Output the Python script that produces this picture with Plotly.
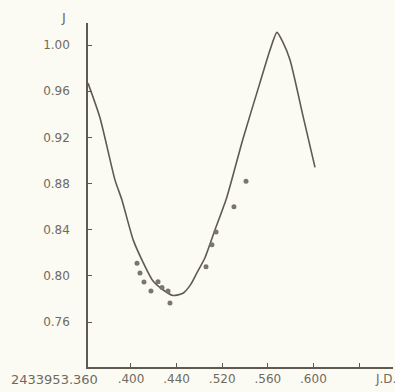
import plotly.graph_objects as go

# Light curve (smooth drawn curve), x = fraction of J.D. 2433953 + x
curve_x = [0.3623, 0.3728, 0.386, 0.392, 0.402, 0.4105, 0.419, 0.428, 0.437, 0.4456,
           0.452, 0.458, 0.465, 0.4737, 0.484, 0.498, 0.513, 0.522, 0.528, 0.533,
           0.5395, 0.551, 0.5614]
curve_y = [0.967, 0.937, 0.883, 0.866, 0.831, 0.812, 0.796, 0.788, 0.783, 0.785,
           0.792, 0.803, 0.816, 0.840, 0.868, 0.918, 0.967, 0.996, 1.011, 1.003,
           0.987, 0.938, 0.894]

# Observed points
obs_x = [0.4053, 0.4079, 0.4114, 0.4175, 0.4237, 0.4272, 0.4325, 0.4342,
         0.4658, 0.4710, 0.4746, 0.4903, 0.5009]
obs_y = [0.811, 0.8026, 0.7948, 0.787, 0.795, 0.790, 0.787, 0.7766,
         0.808, 0.827, 0.838, 0.860, 0.882]

x_tickvals = [0.400, 0.440, 0.480, 0.520, 0.560, 0.600]
x_ticktext = [".400", ".440", ".520", ".560", ".600", ""]
y_tickvals = [1.00, 0.96, 0.92, 0.88, 0.84, 0.80, 0.76]
y_ticktext = ["1.00", "0.96", "0.92", "0.88", "0.84", "0.80", "0.76"]

bg = "#fcfbf3"
ink = "#5e5a52"
txt = "#6e6a60"
font = dict(family="DejaVu Sans", size=12, color=txt)

fig = go.Figure()
fig.add_trace(go.Scatter(x=curve_x, y=curve_y, mode="lines",
                         line=dict(color=ink, width=1.6, shape="spline", smoothing=0.6),
                         hoverinfo="skip", showlegend=False))
fig.add_trace(go.Scatter(x=obs_x, y=obs_y, mode="markers",
                         marker=dict(color="#7a766c", size=5, line=dict(width=0)),
                         showlegend=False))

fig.update_layout(
    width=395, height=392,
    margin=dict(l=88, r=2, t=23, b=25),
    paper_bgcolor=bg, plot_bgcolor=bg,
    font=font,
    xaxis=dict(range=[0.3623, 0.6298], showgrid=False, zeroline=False,
               showline=True, linecolor=ink, linewidth=1.5,
               ticks="inside", ticklen=4, tickcolor=ink,
               tickvals=x_tickvals, ticktext=x_ticktext, tickfont=font),
    yaxis=dict(range=[0.7211, 1.0191], showgrid=False, zeroline=False,
               showline=True, linecolor=ink, linewidth=1.5,
               ticks="inside", ticklen=4, tickcolor=ink,
               tickvals=y_tickvals, ticktext=y_ticktext, tickfont=font,
               ticklabelstandoff=14),
    annotations=[
        dict(text="2433953.360", xref="paper", yref="paper", x=0.04, y=0,
             xanchor="right", yanchor="top", yshift=-3, showarrow=False,
             font=dict(family="DejaVu Sans", size=13, color=txt)),
        dict(text="J.D.", xref="paper", yref="paper", x=0.975, y=0,
             xanchor="center", yanchor="top", yshift=-3, showarrow=False, font=font),
        dict(text="J", xref="paper", yref="paper", x=-0.08, y=1.0,
             xanchor="center", yanchor="bottom", yshift=-4, showarrow=False,
             font=dict(family="DejaVu Sans", size=13, color=txt)),
    ],
)

fig.write_html("out.html",
               config={"displayModeBar": False},
               post_script="document.body.style.margin='0';"
                           "document.body.style.overflow='hidden';"
                           "document.body.style.background='" + bg + "';")
